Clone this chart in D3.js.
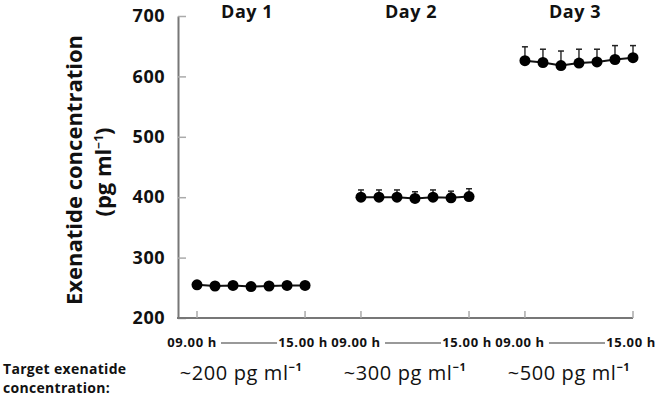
<!DOCTYPE html>
<html lang="en">
  <head>
    <meta charset="utf-8" />
    <title>Exenatide concentration</title>
    <script src="https://d3js.org/d3.v7.min.js" charset="utf-8"></script>
    <style>
      body { margin: 0; background: #fff; }
      text { font-family: "Open Sans", Lato, sans-serif; fill: #111; }
    </style>
  </head>
  <body>
    <div id="chart"></div>
    <script type="text/javascript">
      // data
      const days = ["Day 1", "Day 2", "Day 3"];
      const hours = [9, 10, 11, 12, 13, 14, 15];
      const day1 = [255, 253, 254, 252, 253, 254, 254];
      const day2 = [400, 400, 400, 398, 400, 399, 401];
      const day3 = [626, 623, 618, 622, 624, 628, 631];
      const err1 = [4, 4, 4, 4, 4, 4, 4];
      const err2 = [12, 12, 12, 11, 12, 11, 13];
      const err3 = [23, 22, 24, 23, 21, 23, 20];
      const targets = ["~200", "~300", "~500"];
      const yTicks = [200, 300, 400, 500, 600, 700];
      const hourLabels = ["09.00 h", "15.00 h"];

      const cW = 668,
        cH = 402,
        cAxisX = 178,
        cAxisY = 318;

      const svg = d3
        .select("#chart")
        .append("svg")
        .attr("width", cW)
        .attr("height", cH);

      const dayScale = d3
        .scaleBand()
        .domain(days)
        .range([197, 633])
        .paddingInner(0.341)
        .paddingOuter(0);
      const hourScale = d3
        .scaleLinear()
        .domain([9, 15])
        .range([0, dayScale.bandwidth()]);
      const yScale = d3.scaleLinear().domain([200, 700]).range([cAxisY, 16]);

      const xPos = (day, h) => dayScale(day) + hourScale(h);

      //y axis
      const yAxis = d3
        .axisLeft(yScale)
        .tickValues(yTicks)
        .tickSizeInner(-8)
        .tickSizeOuter(0)
        .tickPadding(13);
      const gy = svg
        .append("g")
        .attr("transform", `translate(${cAxisX},0)`)
        .call(yAxis);
      gy.select(".domain").attr("stroke", "#777").attr("stroke-width", 2);
      gy.selectAll(".tick line").attr("stroke", "#aaa").attr("stroke-width", 1.5);
      gy.selectAll(".tick text")
        .attr("font-size", 18)
        .attr("font-weight", "bold")
        .attr("fill", "#111")
        .attr("letter-spacing", 0.5)
        .style("font-family", "'Open Sans', sans-serif");

      //x axis
      svg
        .append("line")
        .attr("x1", cAxisX - 1)
        .attr("x2", xPos("Day 3", 15))
        .attr("y1", cAxisY)
        .attr("y2", cAxisY)
        .attr("stroke", "#777")
        .attr("stroke-width", 2);

      days.forEach((day, i) => {
        const x0 = xPos(day, 9),
          x1 = xPos(day, 15);
        [x0, x1].forEach((x) => {
          svg
            .append("line")
            .attr("x1", x)
            .attr("x2", x)
            .attr("y1", cAxisY)
            .attr("y2", cAxisY - 7)
            .attr("stroke", "#aaa")
            .attr("stroke-width", 1.5);
        });

        // hour labels with connecting line
        svg
          .append("text")
          .attr("x", x0 - 5)
          .attr("y", 347)
          .attr("text-anchor", "middle")
          .attr("font-size", 13)
          .attr("font-weight", "bold")
          .attr("letter-spacing", 0.6)
          .text(hourLabels[0]);
        svg
          .append("text")
          .attr("x", x1 - 2)
          .attr("y", 347)
          .attr("text-anchor", "middle")
          .attr("font-size", 13)
          .attr("font-weight", "bold")
          .attr("letter-spacing", 0.6)
          .text(hourLabels[1]);
        svg
          .append("line")
          .attr("x1", x0 + 24)
          .attr("x2", x1 - 28)
          .attr("y1", 343)
          .attr("y2", 343)
          .attr("stroke", "#777")
          .attr("stroke-width", 1.5);

        // day title
        svg
          .append("text")
          .attr("x", (x0 + x1) / 2 - 4)
          .attr("y", 18)
          .attr("text-anchor", "middle")
          .attr("font-size", 18)
          .attr("font-weight", "bold")
          .attr("letter-spacing", 0.5)
          .text(day);

        // target concentration
        const t = svg
          .append("text")
          .attr("x", (x0 + x1) / 2 - 10)
          .attr("y", 380)
          .attr("text-anchor", "middle")
          .attr("font-size", 20)
          .attr("letter-spacing", 0.6)
          .text(targets[i] + " pg ml");
        t.append("tspan")
          .attr("dy", -9)
          .attr("font-size", 11)
          .attr("font-weight", "bold")
          .text("\u22121");
      });

      //axis title
      const yt = svg
        .append("text")
        .attr("transform", "translate(82,170) rotate(-90)")
        .attr("text-anchor", "middle")
        .attr("font-size", 22)
        .attr("font-weight", "bold");
      yt.append("tspan").attr("x", 0).attr("dy", 0).text("Exenatide concentration");
      yt.append("tspan").attr("x", -2).attr("dy", 29).text("(pg ml");
      yt.append("tspan").attr("dy", -8).attr("font-size", 12).text("\u22121");
      yt.append("tspan").attr("dy", 8).text(")");

      svg
        .append("text")
        .attr("x", 3)
        .attr("y", 374)
        .attr("font-size", 14)
        .attr("font-weight", "bold")
        .attr("letter-spacing", 0.3)
        .text("Target exenatide");
      svg
        .append("text")
        .attr("x", 3)
        .attr("y", 393)
        .attr("font-size", 14)
        .attr("font-weight", "bold")
        .attr("letter-spacing", 0.3)
        .text("concentration:");

      //data show
      const series = [
        { day: "Day 1", values: day1, errs: err1 },
        { day: "Day 2", values: day2, errs: err2 },
        { day: "Day 3", values: day3, errs: err3 },
      ];

      series.forEach((s) => {
        const pts = hours.map((h, i) => ({
          x: xPos(s.day, h),
          v: s.values[i],
          e: s.errs[i],
        }));
        const g = svg.append("g");
        g.selectAll(".err")
          .data(pts)
          .enter()
          .append("line")
          .attr("x1", (d) => d.x)
          .attr("x2", (d) => d.x)
          .attr("y1", (d) => yScale(d.v))
          .attr("y2", (d) => yScale(d.v + d.e))
          .attr("stroke", "#333")
          .attr("stroke-width", 1.5);
        g.selectAll(".cap")
          .data(pts)
          .enter()
          .append("line")
          .attr("x1", (d) => d.x - 3)
          .attr("x2", (d) => d.x + 3)
          .attr("y1", (d) => yScale(d.v + d.e))
          .attr("y2", (d) => yScale(d.v + d.e))
          .attr("stroke", "#222")
          .attr("stroke-width", 1.5);
        g.append("path")
          .datum(pts)
          .attr("fill", "none")
          .attr("stroke", "#111")
          .attr("stroke-width", 2)
          .attr(
            "d",
            d3
              .line()
              .x((d) => d.x)
              .y((d) => yScale(d.v))
          );
        g.selectAll("circle")
          .data(pts)
          .enter()
          .append("circle")
          .attr("cx", (d) => d.x)
          .attr("cy", (d) => yScale(d.v))
          .attr("r", 5.5)
          .attr("fill", "#000");
      });
    </script>
  </body>
</html>
